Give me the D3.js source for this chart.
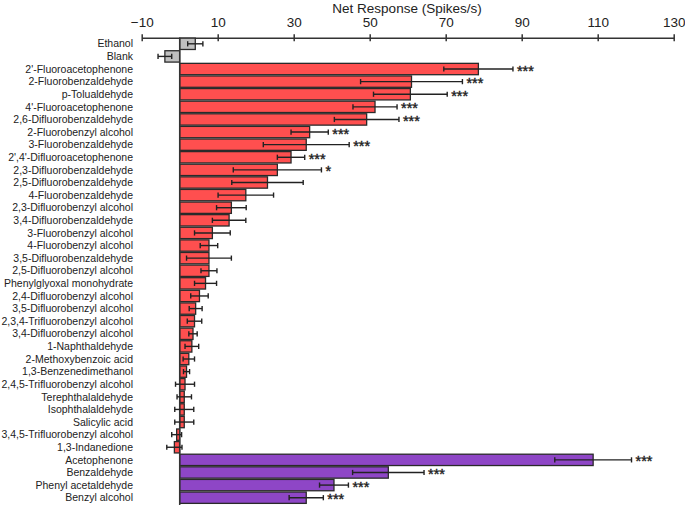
<!DOCTYPE html>
<html><head><meta charset="utf-8">
<script src="https://cdn.jsdelivr.net/npm/d3@7"></script>
<style>body{margin:0;background:#fff;}svg{display:block;font-family:"Liberation Sans",Arial,sans-serif;}</style>
</head><body><svg id="c" width="685" height="506"></svg>
<script>
const categories = ["Ethanol","Blank","2'-Fluoroacetophenone","2-Fluorobenzaldehyde","p-Tolualdehyde","4'-Fluoroacetophenone","2,6-Difluorobenzaldehyde","2-Fluorobenzyl alcohol","3-Fluorobenzaldehyde","2',4'-Difluoroacetophenone","2,3-Difluorobenzaldehyde","2,5-Difluorobenzaldehyde","4-Fluorobenzaldehyde","2,3-Difluorobenzyl alcohol","3,4-Difluorobenzaldehyde","3-Fluorobenzyl alcohol","4-Fluorobenzyl alcohol","3,5-Difluorobenzaldehyde","2,5-Difluorobenzyl alcohol","Phenylglyoxal monohydrate","2,4-Difluorobenzyl alcohol","3,5-Difluorobenzyl alcohol","2,3,4-Trifluorobenzyl alcohol","3,4-Difluorobenzyl alcohol","1-Naphthaldehyde","2-Methoxybenzoic acid","1,3-Benzenedimethanol","2,4,5-Trifluorobenzyl alcohol","Terephthalaldehyde","Isophthalaldehyde","Salicylic acid","3,4,5-Trifluorobenzyl alcohol","1,3-Indanedione","Acetophenone","Benzaldehyde","Phenyl acetaldehyde","Benzyl alcohol"];
const means = [4.1,-3.9,78.6,61.0,60.7,51.4,49.2,34.2,33.3,29.3,25.7,23.1,17.4,13.6,13.0,8.6,7.7,7.7,7.7,6.8,5.2,4.2,3.9,3.5,3.2,2.4,1.8,1.4,1.2,1.2,1.2,-0.8,-1.4,108.8,54.9,40.6,33.3];
const errors = [2.0,1.8,9.1,13.4,9.7,5.8,8.5,4.9,11.3,3.6,11.6,9.4,7.3,3.9,4.4,4.7,2.3,5.9,2.1,2.9,2.3,1.7,1.9,1.1,1.8,1.5,0.8,2.5,1.9,2.5,2.5,1.3,2.0,10.1,9.4,3.8,4.5];
const groups = ["control","control","fluoro","fluoro","fluoro","fluoro","fluoro","fluoro","fluoro","fluoro","fluoro","fluoro","fluoro","fluoro","fluoro","fluoro","fluoro","fluoro","fluoro","fluoro","fluoro","fluoro","fluoro","fluoro","fluoro","fluoro","fluoro","fluoro","fluoro","fluoro","fluoro","fluoro","fluoro","parent","parent","parent","parent"];
const stars = ["","","***","***","***","***","***","***","***","***","*","","","","","","","","","","","","","","","","","","","","","","","***","***","***","***"];
const tickValues = [-10,10,30,50,70,90,110,130];
const groupColors = {control:"#c0c0c0", fluoro:"#ff4f4f", parent:"#8e46c6"};

const svg = d3.select("#c");
const x = d3.scaleLinear().domain([-10,130]).range([141.7,673.7]);
const y = d3.scaleBand().domain(categories).range([37.5,504]).paddingInner(0.1).paddingOuter(0.05);

// title
svg.append("text").attr("x",407).attr("y",13).attr("text-anchor","middle").attr("font-size",13.5).attr("fill","#222").text("Net Response (Spikes/s)");

// top axis
const axis = d3.axisTop(x).tickValues(tickValues).tickSize(0).tickPadding(11).tickFormat(d3.format("d"));
const ag = svg.append("g").attr("transform","translate(0,37.7)").call(axis);
ag.select(".domain").attr("stroke","#333").attr("stroke-width",1.5);
ag.selectAll(".tick text").attr("font-size",13.5).attr("fill","#222").attr("font-family","Liberation Sans, Arial, sans-serif");
ag.selectAll(".tick").append("line").attr("y1",-3.5).attr("y2",3.5).attr("stroke","#333").attr("stroke-width",1.5);

// bars
const data = categories.map((c,i)=>({c, m:means[i], e:errors[i], g:groups[i], s:stars[i]}));
svg.append("g").selectAll("rect").data(data).join("rect")
  .attr("x",d=>x(Math.min(0,d.m))).attr("width",d=>Math.abs(x(d.m)-x(0)))
  .attr("y",d=>y(d.c)).attr("height",y.bandwidth())
  .attr("fill",d=>groupColors[d.g]).attr("stroke","#2a2a2a").attr("stroke-width",1.3);

// zero line
svg.append("line").attr("x1",x(0)).attr("x2",x(0)).attr("y1",37.7).attr("y2",505).attr("stroke","#333").attr("stroke-width",1.5);

// error bars
const eg = svg.append("g").attr("stroke","#222").attr("stroke-width",1.4);
data.forEach(d=>{
  const cy = y(d.c)+y.bandwidth()/2;
  eg.append("line").attr("x1",x(d.m-d.e)).attr("x2",x(d.m+d.e)).attr("y1",cy).attr("y2",cy);
  eg.append("line").attr("x1",x(d.m-d.e)).attr("x2",x(d.m-d.e)).attr("y1",cy-2.6).attr("y2",cy+2.6);
  eg.append("line").attr("x1",x(d.m+d.e)).attr("x2",x(d.m+d.e)).attr("y1",cy-2.6).attr("y2",cy+2.6);
});

// stars
svg.append("g").selectAll("text").data(data.filter(d=>d.s)).join("text")
  .attr("x",d=>x(d.m+d.e)+4).attr("y",d=>y(d.c)+y.bandwidth()/2+6.6)
  .attr("font-size",14.5).attr("fill","#222").attr("stroke","#222").attr("stroke-width",0.4).text(d=>d.s);

// labels
svg.append("g").selectAll("text").data(data).join("text")
  .attr("x",133).attr("y",d=>y(d.c)+y.bandwidth()/2).attr("dy","0.35em")
  .attr("text-anchor","end").attr("font-size",10.5).attr("fill","#222").text(d=>d.c);
</script></body></html>
